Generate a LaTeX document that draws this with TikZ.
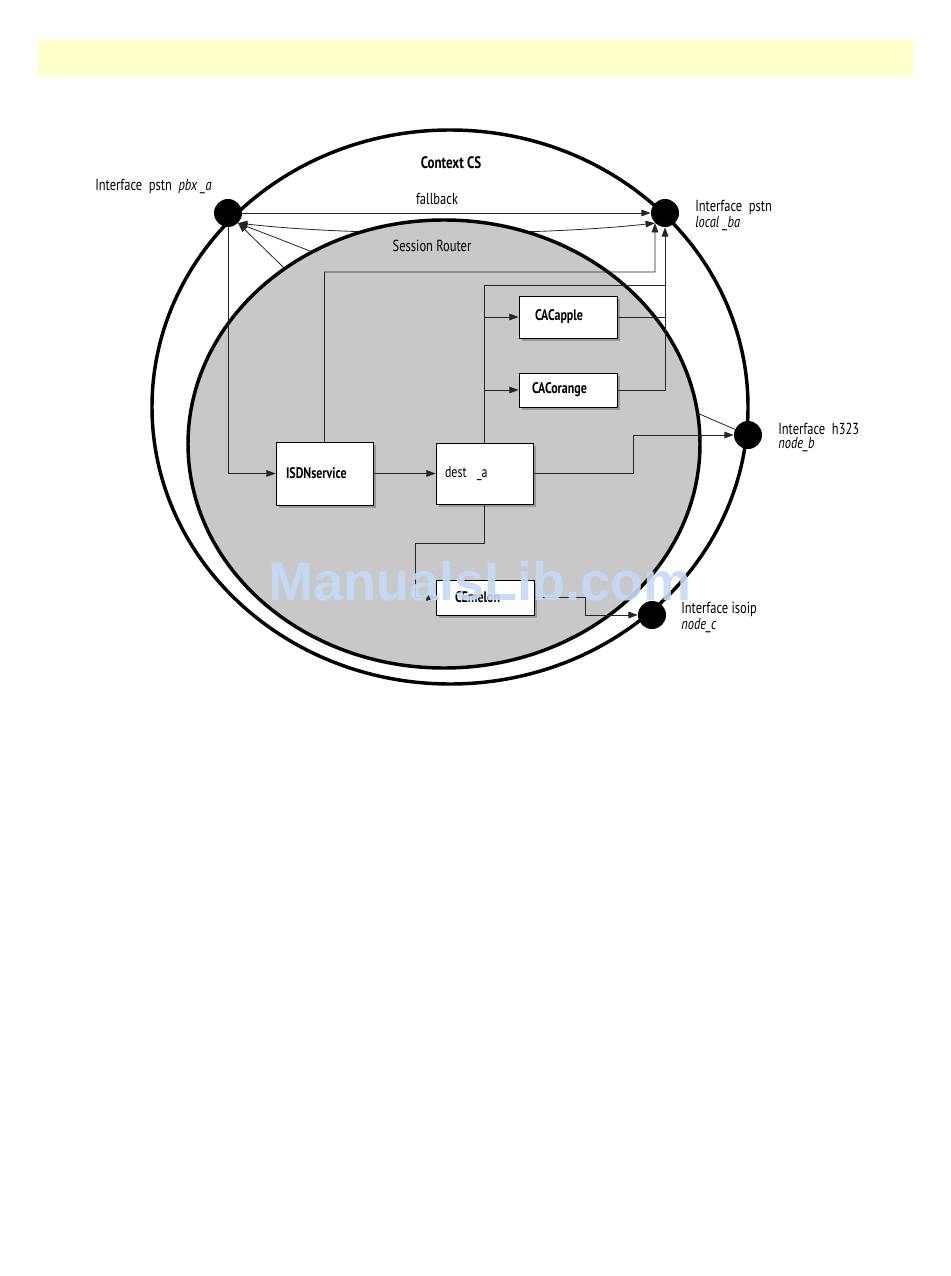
\documentclass[tikz,border=0pt]{standalone}
\usepackage{fontspec}
\newfontfamily\cf{PT Sans}[FakeStretch=0.78]
\newfontfamily\wm{Liberation Sans}
\usetikzlibrary{shapes.geometric,arrows.meta,shadows}
\definecolor{barcol}{RGB}{255,255,204}
\definecolor{srgray}{RGB}{200,200,200}
\definecolor{wmblue}{RGB}{196,218,246}
\tikzset{
 ring/.style={ellipse, draw, line width=2.6pt, inner sep=0},
 iface/.style={circle, fill=black, inner sep=0, minimum size=21pt},
 box/.style={draw, fill=white, line width=0.6pt, inner sep=0, align=left, font=\cf\fontsize{11.5}{13}\selectfont\bfseries,
   drop shadow={shadow xshift=2pt, shadow yshift=-2pt, fill=black!40, opacity=1}},
 conn/.style={line width=0.6pt, draw=black!85},
 arr/.style={conn, -{Triangle[length=7pt,width=5pt]}},
 lbl/.style={inner sep=0, anchor=west, font=\cf\fontsize{12}{14}\selectfont},
 clbl/.style={inner sep=0, font=\cf\fontsize{12}{14}\selectfont},
}
\begin{document}
\begin{tikzpicture}[x=0.75pt,y=-0.75pt]
\useasboundingbox (0,0) rectangle (950,1276);
\fill[barcol] (37,40) rectangle (913,77);
% Context CS
\node[ring, minimum width=447pt, minimum height=415.5pt] (ctx) at (450,407) {};
\node[clbl, font=\cf\fontsize{12.5}{14}\selectfont\bfseries] (ctxl) at (451,163) {Context CS};
% interfaces
\node[iface] (pbx) at (228,213) {};
\node[iface] (lba) at (665,213) {};
\node[iface] (h323) at (748,435) {};
\node[iface] (isoip) at (652,615) {};
% hidden ends (under session router)
\coordinate (s2) at (377,277);
\coordinate (s3) at (323,306);
\coordinate (s4) at (660,397);
\draw[conn] (h323) -- (s4);
\draw[arr] (s2) -- (pbx.south east);
\draw[arr] (s3) -- (pbx.south east);
\draw[conn, {Triangle[length=7pt,width=5pt]}-{Triangle[length=7pt,width=5pt]}] (pbx.south east) .. controls (350,236) and (540,236) .. (lba.south west);
% Session Router
\node[ring, fill=srgray, minimum width=384pt, minimum height=336pt] (sr) at (444,444) {};
\node[clbl] (srl) at (432,246) {Session Router};
% fallback
\draw[arr] (pbx) -- (lba.west);
\node[clbl] (fb) at (437,199) {fallback};
% labels
\node[lbl] (lpbx) at (95,186) {Interface\ \ pstn\ \ \textit{pbx \_a}};
\node[lbl] (llba1) at (695,207) {Interface\ \ pstn};
\node[lbl] (llba2) at (695,224) {\textit{local \_ba}};
\node[lbl] (lh1) at (778,429) {Interface\ \ h323};
\node[lbl] (lh2) at (778,445) {\textit{node\_b}};
\node[lbl] (li1) at (681,609) {Interface isoip};
\node[lbl] (li2) at (681,626) {\textit{node\_c}};
% boxes
\node[box, minimum width=72.75pt, minimum height=47.25pt, text width=57.75pt, inner xsep=7.5pt] (isdn) at (324.5,473.5) {ISDNservice};
\node[box, font=\cf\fontsize{11.5}{13}\selectfont, minimum width=72.75pt, minimum height=45.75pt, text width=59.25pt, inner xsep=6.75pt] (dest) at (484.5,473.5) {dest\ \ \_a};
\node[box, minimum width=73.5pt, minimum height=31.5pt, text width=49.5pt, inner xsep=12pt] (apple) at (568,317) {CACapple};
\node[box, minimum width=73.5pt, minimum height=25.5pt, text width=54pt, inner xsep=9.75pt] (orange) at (568,390) {CACorange};
\node[box, minimum width=73.5pt, minimum height=26.25pt, text width=45pt, inner xsep=14.25pt] (melon) at (485,597.5) {CEmelon};
% connectors
\coordinate (t1) at (655,272);
\coordinate (t2) at (665,285);
\coordinate (t3) at (633,435);
\coordinate (t4) at (415,543);
\coordinate (t5) at (585,615);
\draw[arr] (pbx) |- (isdn.west);
\draw[arr] (isdn.east) -- (dest.west);
\draw[arr] (isdn.north) |- (t1) -- (lba.south west);
\draw[arr] (dest.north) |- (t2) -- (lba.south);
\draw[arr] (dest.north |- apple.west) -- (apple.west);
\draw[arr] (dest.north |- orange.west) -- (orange.west);
\draw[conn] (apple.east) -- (apple.east -| t2);
\draw[conn] (orange.east) -| (t2);
\draw[arr] (dest.east) -| (t3) -- (h323.west);
\draw[arr] (dest.south) |- (t4) |- (melon.west);
\draw[arr] (melon.east) -| (t5) -- (isoip.west);
% watermark
\node[inner sep=0, font=\wm\bfseries\fontsize{40.5}{41}\selectfont, text=wmblue, opacity=0.9] (wm) at (480,581) {ManualsLib.com};
\end{tikzpicture}
\end{document}
